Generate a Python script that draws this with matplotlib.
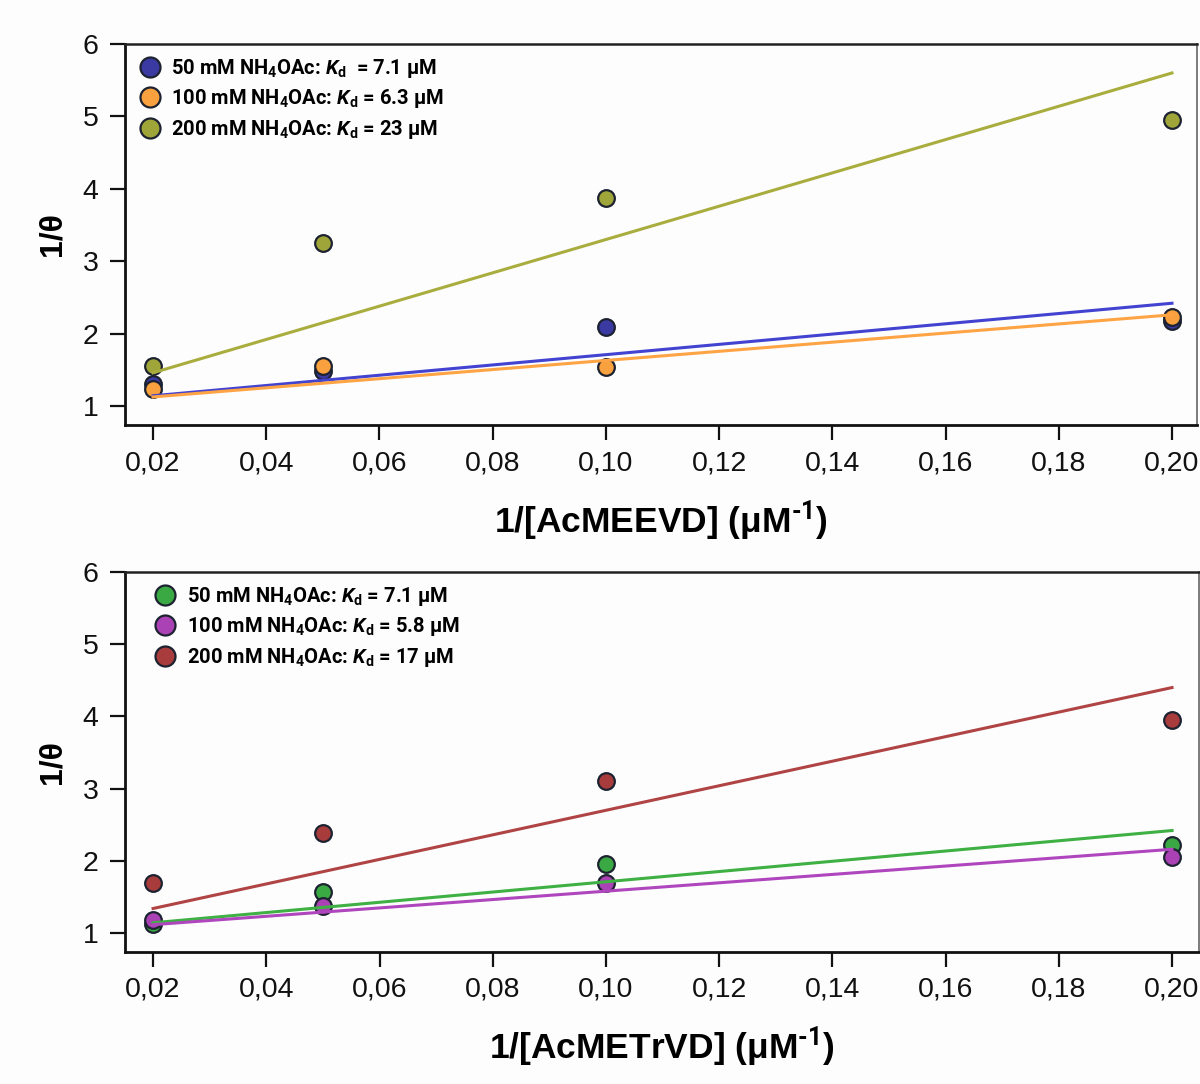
import matplotlib
matplotlib.use("Agg")
import matplotlib.pyplot as plt
import numpy as np

plt.rcParams['font.family'] = ['Liberation Sans', 'DejaVu Sans']
plt.rcParams['mathtext.fontset'] = 'custom'
plt.rcParams['mathtext.rm'] = 'Roboto:bold'
plt.rcParams['mathtext.it'] = 'Roboto:bold:italic'
plt.rcParams['mathtext.bf'] = 'Roboto:bold'

# data
conc = [0.02, 0.05, 0.10, 0.20]
xticks = [0.02, 0.04, 0.06, 0.08, 0.10, 0.12, 0.14, 0.16, 0.18, 0.20]
xticklabels = ['0,02', '0,04', '0,06', '0,08', '0,10', '0,12', '0,14', '0,16', '0,18', '0,20']
yticks = [1, 2, 3, 4, 5, 6]

top_50 = [1.30, 1.48, 2.09, 2.17]
top_100 = [1.24, 1.55, 1.54, 2.23]
top_200 = [1.55, 3.25, 3.87, 4.95]
top_kd = [7.1, 6.3, 23]
top_labels = [r'50 mM NH$_4$OAc: $K_\mathrm{d}$  = 7.1 μM',
              r'100 mM NH$_4$OAc: $K_\mathrm{d}$ = 6.3 μM',
              r'200 mM NH$_4$OAc: $K_\mathrm{d}$ = 23 μM']

bot_50 = [1.12, 1.57, 1.95, 2.22]
bot_100 = [1.18, 1.38, 1.70, 2.05]
bot_200 = [1.69, 2.38, 3.11, 3.95]
bot_kd = [7.1, 5.8, 17]
bot_labels = [r'50 mM NH$_4$OAc: $K_\mathrm{d}$ = 7.1 μM',
              r'100 mM NH$_4$OAc: $K_\mathrm{d}$ = 5.8 μM',
              r'200 mM NH$_4$OAc: $K_\mathrm{d}$ = 17 μM']

top_fill = ['#3a3aa2', '#f9a03f', '#a0a53a']
top_line = ['#4343d2', '#ffa444', '#a9ad3e']
bot_fill = ['#3aa843', '#aa42b6', '#a83c3c']
bot_line = ['#3fb043', '#b046be', '#b04444']
edge = '#1c2230'

bg = '#fdfdfd'
fig = plt.figure(figsize=(12, 10.84), dpi=100, facecolor=bg)
ax1 = fig.add_axes([0.1042, 0.6079, 0.8933, 0.3515])
ax2 = fig.add_axes([0.1042, 0.1218, 0.8950, 0.3505])


def panel(ax, series, kds, labels, fills, lines, xlabel, leg_x, xmax):
    ax.set_facecolor(bg)
    fit_x = np.array([conc[0], conc[-1]])
    for ys, kd, lab, fc, lc in zip(series, kds, labels, fills, lines):
        ax.plot(conc, ys, 'o', ms=12, mfc=fc, mec=edge, mew=1.6,
                label=lab, zorder=2, clip_on=False)
        ax.plot(fit_x, 1 + kd * fit_x, '-', color=lc, lw=2.2, zorder=3)
    ax.set_xlim(0.01505, xmax)
    ax.set_ylim(0.738, 6.0)
    ax.set_xticks(xticks)
    ax.set_xticklabels(xticklabels)
    ax.set_yticks(yticks)
    ax.tick_params(direction='out', length=11, width=1.6, labelsize=20.5,
                   pad=7, colors='#111111')
    ax.tick_params(axis='y', pad=8)
    for s in ['left', 'bottom']:
        ax.spines[s].set_linewidth(2.0)
        ax.spines[s].set_color('#111111')
    ax.spines['top'].set_linewidth(1.8)
    ax.spines['top'].set_color('#222222')
    ax.spines['right'].set_linewidth(1.2)
    ax.spines['right'].set_color('#666666')
    ax.set_xlabel(xlabel, fontsize=25.5, fontweight='bold', va='center')
    ax.xaxis.set_label_coords(0.5, -0.25)
    ax.set_ylabel('1/θ', fontsize=23, fontweight='bold', va='center')
    ax.yaxis.set_label_coords(-0.068, 0.5)
    ax.legend(loc='upper left', bbox_to_anchor=(leg_x, 1.0), frameon=False,
              prop={'family': 'Roboto', 'weight': 'bold', 'size': 14.5},
              handletextpad=0.55, labelspacing=0.36, handlelength=1.0,
              borderaxespad=0.25, markerscale=1.2)


panel(ax1, [top_50, top_100, top_200], top_kd, top_labels, top_fill, top_line,
      r'1/[AcMEEVD] (μM$^{\text{-1}}$)', 0.002, 0.20442)
panel(ax2, [bot_50, bot_100, bot_200], bot_kd, bot_labels, bot_fill, bot_line,
      r'1/[AcMETrVD] (μM$^{\text{-1}}$)', 0.016, 0.20477)

fig.savefig('out.png', dpi=100, facecolor=bg)
